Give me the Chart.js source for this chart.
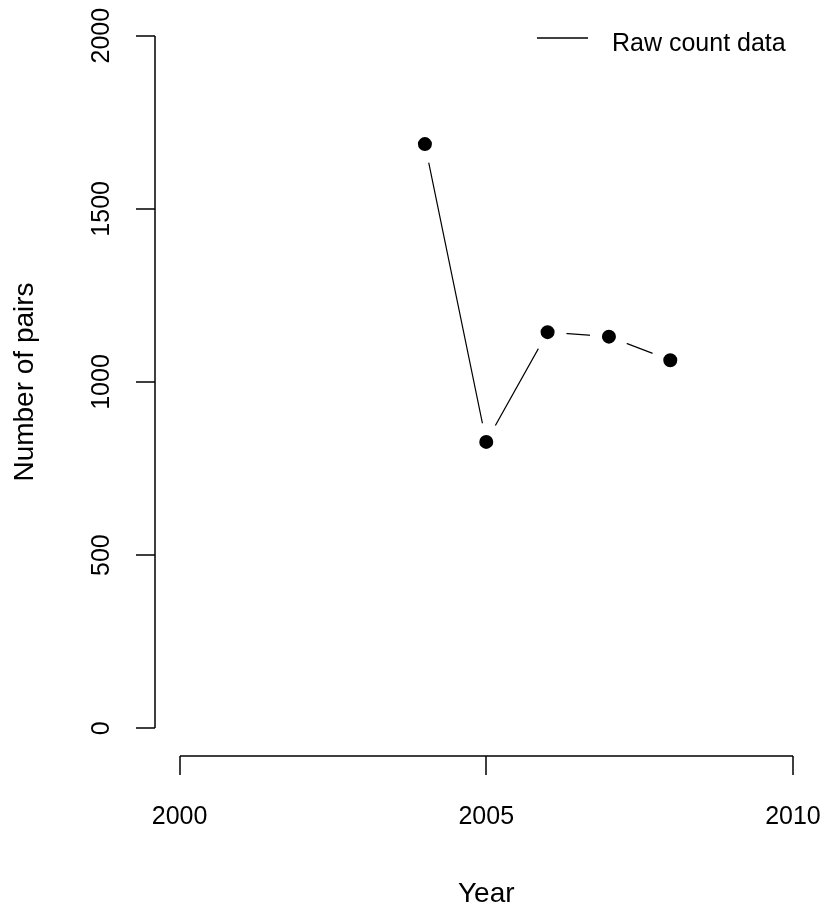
<!DOCTYPE html>
<html>
<head>
<meta charset="utf-8">
<script src="https://cdn.jsdelivr.net/npm/chart.js@4"></script>
<style>
html,body{margin:0;padding:0;background:#fff;}
canvas{display:block;}
</style>
</head>
<body>
<canvas id="c" width="825" height="910"></canvas>
<script>
const years = [2004, 2005, 2006, 2007, 2008];
const pairs = [1687, 827, 1144, 1131, 1063];
const xTicks = [2000, 2005, 2010];
const yTicks = [0, 500, 1000, 1500, 2000];
const seriesLabel = 'Raw count data';
const xTitle = 'Year';
const yTitle = 'Number of pairs';

const TICK_FONT = '25px "Liberation Sans", Arial, sans-serif';
const TITLE_FONT = '28px "Liberation Sans", Arial, sans-serif';

const rAxes = {
  id: 'rAxes',
  afterDraw(chart) {
    const ctx = chart.ctx;
    const xs = chart.scales.x, ys = chart.scales.y;
    const area = chart.chartArea;
    ctx.save();
    ctx.strokeStyle = '#000';
    ctx.fillStyle = '#000';
    ctx.lineWidth = 1.5;
    ctx.textBaseline = 'alphabetic';
    // x axis
    const axY = Math.round(area.bottom);
    const x0 = Math.round(xs.getPixelForValue(xTicks[0]));
    const x1 = Math.round(xs.getPixelForValue(xTicks[xTicks.length - 1]));
    ctx.beginPath();
    ctx.moveTo(x0, axY); ctx.lineTo(x1, axY);
    xTicks.forEach(v => {
      const px = Math.round(xs.getPixelForValue(v));
      ctx.moveTo(px, axY); ctx.lineTo(px, axY + 19);
    });
    ctx.stroke();
    ctx.textAlign = 'center';
    ctx.font = TICK_FONT;
    xTicks.forEach(v => ctx.fillText(String(v), xs.getPixelForValue(v), 824));
    ctx.font = TITLE_FONT;
    ctx.fillText(xTitle, (area.left + area.right) / 2, 902);
    // y axis
    const axX = Math.round(area.left);
    const y0 = Math.round(ys.getPixelForValue(yTicks[0]));
    const y1 = Math.round(ys.getPixelForValue(yTicks[yTicks.length - 1]));
    ctx.beginPath();
    ctx.moveTo(axX, y0); ctx.lineTo(axX, y1);
    yTicks.forEach(v => {
      const py = Math.round(ys.getPixelForValue(v));
      ctx.moveTo(axX, py); ctx.lineTo(axX - 19, py);
    });
    ctx.stroke();
    ctx.font = TICK_FONT;
    yTicks.forEach(v => {
      ctx.save();
      ctx.translate(109, ys.getPixelForValue(v));
      ctx.rotate(-Math.PI / 2);
      ctx.fillText(String(v), 0, 0);
      ctx.restore();
    });
    ctx.font = TITLE_FONT;
    ctx.save();
    ctx.translate(33, (y0 + y1) / 2);
    ctx.rotate(-Math.PI / 2);
    ctx.fillText(yTitle, 0, 0);
    ctx.restore();
    // legend
    ctx.lineWidth = 1.5;
    ctx.beginPath();
    ctx.moveTo(537, 38); ctx.lineTo(588, 38);
    ctx.stroke();
    ctx.textAlign = 'left';
    ctx.font = TICK_FONT;
    ctx.fillText(seriesLabel, 612, 51);
    ctx.restore();
  }
};

new Chart(document.getElementById('c'), {
  type: 'line',
  data: {
    datasets: [{
      label: seriesLabel,
      data: years.map((y, i) => ({ x: y, y: pairs[i] })),
      borderColor: '#000',
      borderWidth: 1.2,
      backgroundColor: '#000',
      pointBackgroundColor: '#000',
      pointBorderColor: '#fff',
      pointRadius: 13,
      pointBorderWidth: 12,
      pointHoverRadius: 13,
      tension: 0,
      fill: false
    }]
  },
  options: {
    responsive: false,
    animation: false,
    devicePixelRatio: 1,
    layout: { autoPadding: false, padding: { left: 155, right: 7.5, top: 8, bottom: 154 } },
    plugins: { legend: { display: false }, tooltip: { enabled: false } },
    scales: {
      x: { type: 'linear', min: 1999.6, max: 2010.4, display: false },
      y: { type: 'linear', min: -80, max: 2080, display: false }
    }
  },
  plugins: [rAxes]
});
</script>
</body>
</html>
